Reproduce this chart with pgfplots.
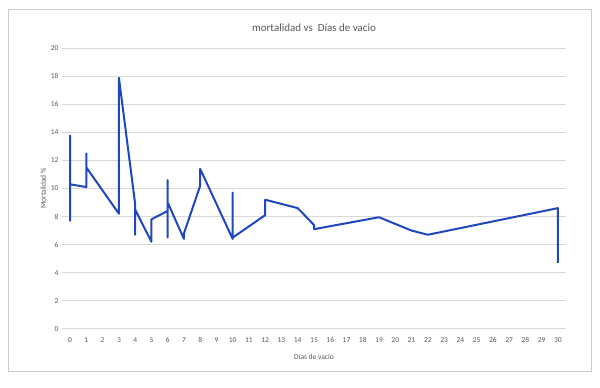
\documentclass[border=0pt]{standalone}
\usepackage{fontspec}
\setmainfont{Carlito}
\usepackage{pgfplots}
\pgfplotsset{compat=1.18}
\definecolor{lineblue}{RGB}{32,72,190}
\definecolor{gridgray}{RGB}{217,217,217}
\definecolor{txtgray}{RGB}{89,89,89}
\begin{document}
\begin{tikzpicture}
\useasboundingbox (0pt,0pt) rectangle (600pt,388pt);
\draw[gray!40, line width=1pt] (8pt,16.3pt) rectangle (591pt,378.7pt);
\node[txtgray, font=\fontsize{11}{13}\selectfont] at (314pt,360pt) {mortalidad vs\ \ Días de vacio};
\begin{axis}[
  at={(62pt,59.3pt)}, anchor=south west,
  width=504pt, height=280.4pt, scale only axis,
  xmin=-0.5, xmax=30.5, ymin=0, ymax=20,
  xtick={0,1,...,30}, ytick={0,2,...,20},
  axis line style={draw=none},
  tick style={draw=none},
  ymajorgrids, grid style={gridgray, line width=0.8pt},
  ticklabel style={font=\fontsize{7.5}{9}\selectfont, text=txtgray},
  xticklabel style={text height=1.6ex, text depth=0.2ex, yshift=-3pt},
  /pgf/number format/assume math mode=true,
  xlabel={Días de vacio}, ylabel={Mortalidad \%},
  label style={font=\fontsize{7.5}{9}\selectfont, text=txtgray},
  xlabel style={yshift=-4pt},
  ylabel style={yshift=-2pt},
  clip=false,
]
\addplot[lineblue, line width=2pt, line join=round] coordinates {
(0,13.8) (0,7.7) (0,10.3) (1,10.1) (1,12.5) (1,11.5) (3,8.2) (3,17.9)
(4,8.9) (4,6.7) (4,8.5) (5,6.2) (5,7.8) (6,8.4) (6,10.6) (6,6.5) (6,9.0)
(7,6.4) (7,6.8) (8,10.2) (8,11.4) (10,6.4) (10,9.7) (10,6.5)
(12,8.1) (12,9.2) (14,8.6) (15,7.4) (15,7.1) (19,7.95) (21,7.0) (22,6.7)
(30,8.6) (30,4.7)
};
\end{axis}
\end{tikzpicture}
\end{document}
